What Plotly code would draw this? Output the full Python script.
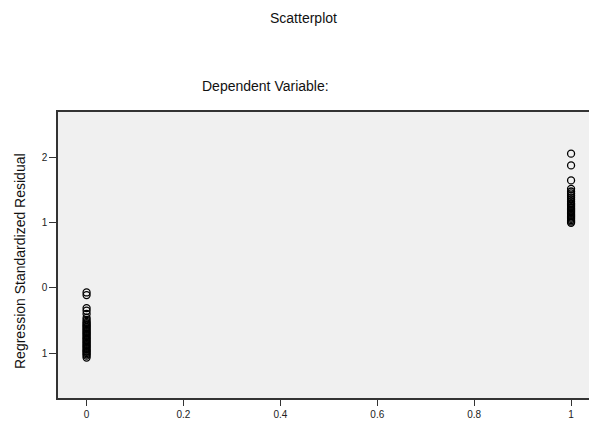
import plotly.graph_objects as go

# Observed dependent variable (x) and standardized residuals (y)
resid_at_0 = [-0.07, -0.11, -0.31, -0.35, -0.40, -0.46, -0.49, -0.52, -0.54, -0.56,
              -0.58, -0.60, -0.62, -0.64, -0.66, -0.68, -0.70, -0.72, -0.74, -0.76,
              -0.78, -0.80, -0.82, -0.84, -0.86, -0.88, -0.90, -0.92, -0.94, -0.96,
              -0.98, -1.00, -1.02, -1.04, -1.07]
resid_at_1 = [2.06, 1.88, 1.65, 1.52, 1.48, 1.45, 1.42, 1.39, 1.36, 1.33,
              1.30, 1.28, 1.26, 1.24, 1.22, 1.20, 1.18, 1.16, 1.14, 1.12,
              1.10, 1.08, 1.06, 1.04, 1.02, 1.00]

x_vals = [0] * len(resid_at_0) + [1] * len(resid_at_1)
y_vals = resid_at_0 + resid_at_1

x_ticks = [0, 0.2, 0.4, 0.6, 0.8, 1]
x_tick_text = ["0", "0.2", "0.4", "0.6", "0.8", "1"]
y_ticks = [-1, 0, 1, 2]
y_tick_text = ["1", "0", "1", "2"]

FONT = "Liberation Sans, Arial, sans-serif"
W, H = 589, 423
L, R, T, B = 58, 0, 112, 25
pw, ph = W - L - R, H - T - B


def px_to_paper(px, py):
    return (px - L) / pw, (H - py - B) / ph


fig = go.Figure()
fig.add_trace(go.Scatter(
    x=x_vals, y=y_vals, mode="markers",
    marker=dict(symbol="circle-open", size=7, color="black", line=dict(width=1.3)),
    showlegend=False, hoverinfo="skip"))

tx, ty = px_to_paper(303, 18)
dx, dy = px_to_paper(265, 86)
yx, yy = px_to_paper(20, 261)

fig.update_layout(
    width=W, height=H,
    margin=dict(l=L, r=R, t=T, b=B),
    paper_bgcolor="white", plot_bgcolor="#f0f0f0",
    font=dict(family=FONT, size=10, color="#222"),
    xaxis=dict(range=[-0.059, 1.037], tickvals=x_ticks, ticktext=x_tick_text,
               showgrid=False, zeroline=False, showline=True, linecolor="#333",
               linewidth=1.5, mirror=True, ticks="outside", ticklen=6,
               tickcolor="#333", tickwidth=1.3,
               tickfont=dict(family=FONT, size=10, color="#222")),
    yaxis=dict(range=[-1.69, 2.70], tickvals=y_ticks, ticktext=y_tick_text,
               showgrid=False, zeroline=False, showline=True, linecolor="#333",
               linewidth=1.5, ticks="outside", ticklen=7,
               tickcolor="#333", tickwidth=1.3,
               tickfont=dict(family=FONT, size=10, color="#222")),
    annotations=[
        dict(text="Scatterplot", x=tx, y=ty, xref="paper", yref="paper",
             xanchor="center", yanchor="middle", showarrow=False,
             font=dict(family=FONT, size=14, color="#111")),
        dict(text="Dependent Variable:", x=dx, y=dy, xref="paper", yref="paper",
             xanchor="center", yanchor="middle", showarrow=False,
             font=dict(family=FONT, size=14, color="#111")),
        dict(text="Regression Standardized Residual", x=yx, y=yy, xref="paper", yref="paper",
             xanchor="center", yanchor="middle", showarrow=False, textangle=-90,
             font=dict(family=FONT, size=14, color="#111")),
    ],
)

fig.write_html("out.html")
